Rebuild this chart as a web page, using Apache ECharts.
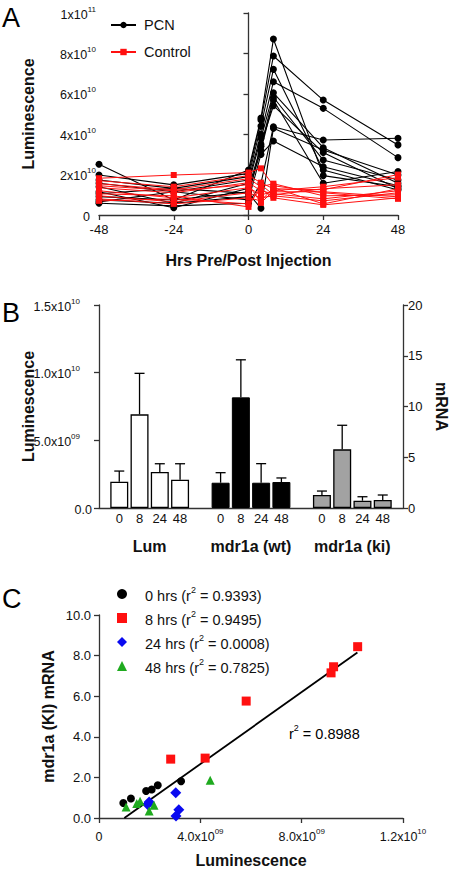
<!DOCTYPE html>
<html><head><meta charset="utf-8">
<script src="https://cdn.jsdelivr.net/npm/echarts@6/dist/echarts.min.js"></script>
<style>html,body{margin:0;padding:0;background:#fff}#c{width:452px;height:869px}</style>
</head><body><div id="c"></div>
<script>
// ---------------- Panel A data (Luminescence, units of 1e10) ----------------
const hoursA = [-48, -24, 0, 4, 8, 24, 48];
const pcn01 = [2.51, 0.74, 2.23, 4.80, 8.71, 1.95, 1.40];
const pcn02 = [1.98, 1.49, 2.06, 4.70, 7.87, 5.69, 3.47];
const pcn03 = [1.73, 1.32, 1.90, 4.40, 7.21, 2.23, 1.24];
const pcn04 = [1.57, 1.15, 1.73, 4.00, 6.60, 5.28, 2.84];
const pcn05 = [1.40, 0.58, 1.57, 3.80, 6.05, 3.33, 1.57];
const pcn06 = [1.15, 0.36, 1.32, 3.40, 5.83, 2.72, 1.73];
const pcn07 = [0.91, 0.74, 1.15, 3.20, 5.69, 1.57, 2.15];
const pcn08 = [0.75, 0.58, 0.91, 3.50, 5.41, 3.09, 1.30];
const pcn09 = [0.58, 0.45, 0.58, 1.57, 4.37, 3.71, 3.80];
const pcn10 = [1.05, 1.32, 1.07, 0.33, 4.29, 3.22, 1.98];
const pcn11 = [0.65, 1.15, 0.75, 3.00, 3.66, 2.39, 1.45];
const ctl01 = [1.82, 1.98, 2.10, 2.31, 1.45, 1.10, 0.80];
const ctl02 = [1.70, 1.40, 1.95, 1.60, 1.30, 1.25, 2.00];
const ctl03 = [1.55, 1.25, 1.80, 1.40, 1.55, 0.95, 1.00];
const ctl04 = [1.35, 1.10, 1.60, 1.20, 1.05, 0.80, 1.20];
const ctl05 = [1.20, 0.85, 1.35, 1.00, 1.15, 1.15, 0.90];
const ctl06 = [0.95, 0.65, 1.10, 0.85, 0.95, 0.70, 1.10];
const ctl07 = [0.80, 0.55, 0.85, 0.70, 1.35, 0.55, 1.30];
const ctl08 = [0.70, 0.80, 0.55, 1.30, 0.85, 0.50, 0.85];
const ctl09 = [1.05, 0.95, 0.40, 1.50, 1.00, 1.30, 1.50];
const ctl10 = [1.45, 1.20, 1.50, 0.60, 1.20, 1.40, 1.85];
const aYTickVals = [0, 2, 4, 6, 8, 10];
const aYTickMant = ['0', '2x10', '4x10', '6x10', '8x10', '1x10'];
const aYTickExp  = ['', '10', '10', '10', '10', '11'];

// ---------------- Panel B data ----------------
const bGroups = ['Lum', 'mdr1a (wt)', 'mdr1a (ki)'];
const bHours = ['0', '8', '24', '48'];
const lumMean = [1.94, 6.92, 2.66, 2.09];   // x1e9
const lumErr  = [2.73, 9.95, 3.27, 3.27];
const wtMean  = [2.49, 10.9, 2.49, 2.56];   // mRNA
const wtErr   = [3.48, 14.6, 4.37, 2.96];
const kiMean  = [1.28, 5.78, 0.72, 0.79];
const kiErr   = [1.67, 8.15, 1.11, 1.28];
const bYTickVals = [0, 5, 10, 15];
const bYTickMant = ['0.0', '5.0x10', '1.0x10', '1.5x10'];
const bYTickExp  = ['', '09', '10', '10'];

// ---------------- Panel C data ----------------
const c0hLum = [0.96, 1.26, 1.86, 2.08, 2.32, 3.24];   // x1e9
const c0hMrna = [0.74, 0.96, 1.33, 1.40, 1.61, 1.81];
const c8hLum = [2.83, 4.19, 5.81, 9.16, 9.26, 10.21];
const c8hMrna = [2.90, 2.95, 5.76, 7.15, 7.45, 8.44];
const c24hLum = [1.92, 1.98, 3.03, 3.15, 3.04];
const c24hMrna = [0.66, 0.79, 1.24, 0.41, 0.10];
const c48hLum = [1.07, 1.49, 1.62, 1.98, 2.17, 4.39];
const c48hMrna = [0.54, 0.71, 0.82, 0.35, 0.63, 1.86];
const cNames = ['0 hrs', '8 hrs', '24 hrs', '48 hrs'];
const cR2 = ['0.9393', '0.9495', '0.0008', '0.7825'];
const fitLum = [1.0, 10.2];
const fitMrna = [0.0, 8.15];
const fitR2 = '0.8988';
const cXTickVals = [0, 4, 8, 12];
const cXTickMant = ['0', '4.0x10', '8.0x10', '1.2x10'];
const cXTickExp  = ['', '09', '09', '10'];

// ---------------- styling ----------------
const FONT = "'Liberation Sans', Arial, Helvetica, sans-serif";
const AX = '#333';
const TXT = '#111';
const RED = '#ff1010';

function rich(padRight) {
  return {
    b: { fontFamily: FONT, fontSize: 12.5, lineHeight: 16, verticalAlign: 'bottom', color: TXT },
    s: { fontFamily: FONT, fontSize: 8, lineHeight: 8, verticalAlign: 'top', color: TXT, padding: [0, padRight || 0, 0, 0] },
    z: { fontFamily: FONT, fontSize: 12.5, lineHeight: 16, verticalAlign: 'bottom', color: TXT }
  };
}
function expFormatter(vals, mant, exp) {
  return function (v) {
    const i = vals.indexOf(Math.round(v * 1000) / 1000);
    if (i < 0) return '';
    return exp[i] ? '{b|' + mant[i] + '}{s|' + exp[i] + '}' : '{z|' + mant[i] + '}';
  };
}
const lineAx = { show: true, lineStyle: { color: AX, width: 1.3 } };
const tickAx = { show: true, length: 5, lineStyle: { color: AX, width: 1.3 } };
const nameStyle = { fontFamily: FONT, fontSize: 16, fontWeight: 'bold', color: TXT };
const labStyle = { fontFamily: FONT, fontSize: 13, color: TXT };

// ---------------- series ----------------
const series = [];
const pcnAll = [pcn01, pcn02, pcn03, pcn04, pcn05, pcn06, pcn07, pcn08, pcn09, pcn10, pcn11];
const ctlAll = [ctl01, ctl02, ctl03, ctl04, ctl05, ctl06, ctl07, ctl08, ctl09, ctl10];
pcnAll.forEach(function (arr) {
  series.push({ name: 'PCN', type: 'line', xAxisIndex: 0, yAxisIndex: 0,
    data: hoursA.map(function (h, i) { return [h, arr[i]]; }),
    symbol: 'circle', symbolSize: 7, color: '#000',
    lineStyle: { color: '#000', width: 1.1 }, itemStyle: { color: '#000' }, z: 2 });
});
ctlAll.forEach(function (arr) {
  series.push({ name: 'Control', type: 'line', xAxisIndex: 0, yAxisIndex: 0,
    data: hoursA.map(function (h, i) { return [h, arr[i]]; }),
    symbol: 'rect', symbolSize: 6, color: RED,
    lineStyle: { color: RED, width: 1 }, itemStyle: { color: RED }, z: 3 });
});

// Panel B categories
const bCats = ['_s'];
bGroups.forEach(function (g, gi) {
  bHours.forEach(function (h) { bCats.push(g + '|' + h); });
  bCats.push(gi < bGroups.length - 1 ? '_g' + gi : '_e');
});
function barData(g, vals) { return vals.map(function (v, i) { return [g + '|' + bHours[i], v]; }); }
function errData(g, m, e) { return m.map(function (v, i) { return [g + '|' + bHours[i], v, e[i]]; }); }
const barCommon = { type: 'bar', xAxisIndex: 1, barWidth: 18, barGap: '-100%' };
series.push(Object.assign({}, barCommon, { name: 'b-lum', yAxisIndex: 1, data: barData(bGroups[0], lumMean),
  itemStyle: { color: '#fff', borderColor: '#000', borderWidth: 1.3 } }));
series.push(Object.assign({}, barCommon, { name: 'b-wt', yAxisIndex: 2, data: barData(bGroups[1], wtMean),
  itemStyle: { color: '#000', borderColor: '#000', borderWidth: 1 } }));
series.push(Object.assign({}, barCommon, { name: 'b-ki', yAxisIndex: 2, data: barData(bGroups[2], kiMean),
  itemStyle: { color: '#a2a2a2', borderColor: '#000', borderWidth: 1.3 } }));
function errRender(params, api) {
  const p0 = api.coord([api.value(0), api.value(1)]);
  const p1 = api.coord([api.value(0), api.value(2)]);
  const st = { stroke: '#000', lineWidth: 1.3 };
  return { type: 'group', children: [
    { type: 'line', shape: { x1: p0[0], y1: p0[1], x2: p1[0], y2: p1[1] }, style: st },
    { type: 'line', shape: { x1: p1[0] - 5, y1: p1[1], x2: p1[0] + 5, y2: p1[1] }, style: st }
  ] };
}
series.push({ name: 'e-lum', type: 'custom', xAxisIndex: 1, yAxisIndex: 1, renderItem: errRender,
  encode: { x: 0, y: [1, 2] }, data: errData(bGroups[0], lumMean, lumErr), z: 5 });
series.push({ name: 'e-wt', type: 'custom', xAxisIndex: 1, yAxisIndex: 2, renderItem: errRender,
  encode: { x: 0, y: [1, 2] }, data: errData(bGroups[1], wtMean, wtErr), z: 5 });
series.push({ name: 'e-ki', type: 'custom', xAxisIndex: 1, yAxisIndex: 2, renderItem: errRender,
  encode: { x: 0, y: [1, 2] }, data: errData(bGroups[2], kiMean, kiErr), z: 5 });

// Panel C
series.push({ name: 'fit', type: 'line', xAxisIndex: 3, yAxisIndex: 3,
  data: fitLum.map(function (x, i) { return [x, fitMrna[i]]; }),
  showSymbol: false, symbol: 'none', lineStyle: { color: '#000', width: 1.8 }, z: 2 });
const cSets = [
  { x: c0hLum, y: c0hMrna, symbol: 'circle', size: 8, color: '#000' },
  { x: c8hLum, y: c8hMrna, symbol: 'rect', size: 9, color: RED },
  { x: c24hLum, y: c24hMrna, symbol: 'diamond', size: 11, color: '#0a0af0' },
  { x: c48hLum, y: c48hMrna, symbol: 'triangle', size: 9, color: '#1faa1f' }
];
cSets.forEach(function (s, k) {
  series.push({ name: cNames[k], type: 'scatter', xAxisIndex: 3, yAxisIndex: 3,
    data: s.x.map(function (x, i) { return [x, s.y[i]]; }),
    symbol: s.symbol, symbolSize: s.size, itemStyle: { color: s.color, opacity: 1 }, z: 4 });
});

const legRich = {
  f: { fontFamily: FONT, fontSize: 14.5, lineHeight: 18, color: TXT, verticalAlign: 'bottom', padding: [0, 0, 0, 13] },
  b: { fontFamily: FONT, fontSize: 14.5, lineHeight: 18, color: TXT, verticalAlign: 'bottom' },
  s: { fontFamily: FONT, fontSize: 9, lineHeight: 9, color: TXT, verticalAlign: 'top' }
};

const option = {
  animation: false,
  backgroundColor: '#fff',
  textStyle: { fontFamily: FONT },
  grid: [
    { left: 99, top: 13, width: 299, height: 202, outerBoundsMode: 'none', containLabel: false },
    { left: 99, top: 305, width: 304, height: 203, outerBoundsMode: 'none', containLabel: false },
    { left: 99, top: 615, width: 304, height: 203, outerBoundsMode: 'none', containLabel: false }
  ],
  legend: [
    { data: ['PCN', 'Control'], orient: 'vertical', left: 110, top: 17, padding: 0, itemWidth: 25, itemHeight: 8,
      itemGap: 11, selectedMode: false,
      textStyle: { fontFamily: FONT, fontSize: 14.5, color: TXT, lineHeight: 16, padding: [0, 0, 0, 3] } },
    { data: cNames, orient: 'vertical', left: 117, top: 585, padding: 0, itemWidth: 10, itemHeight: 10,
      itemGap: 6, selectedMode: false,
      formatter: function (n) { const i = cNames.indexOf(n); return '{f|' + n + ' (r}{s|2}{b| = ' + cR2[i] + ')}'; },
      textStyle: { rich: legRich } }
  ],
  xAxis: [
    { gridIndex: 0, type: 'value', min: -48, max: 48, interval: 24,
      name: 'Hrs Pre/Post Injection', nameLocation: 'middle', nameGap: 37, nameMoveOverlap: false, nameTextStyle: nameStyle,
      axisLine: lineAx, axisTick: tickAx, splitLine: { show: false },
      axisLabel: Object.assign({ margin: 8 }, labStyle) },
    { gridIndex: 1, type: 'category', data: bCats, boundaryGap: false, position: 'bottom',
      axisLine: lineAx, axisTick: { show: false }, splitLine: { show: false },
      axisLabel: Object.assign({ margin: 4, interval: 0, formatter: function (v) { return v.charAt(0) === '_' ? '' : v.split('|')[1]; } }, labStyle) },
    { gridIndex: 1, type: 'value', min: 0, max: bCats.length - 1, interval: 2.5, position: 'bottom', offset: 0,
      axisLine: { show: false }, axisTick: { show: false }, splitLine: { show: false },
      axisLabel: { margin: 30, fontFamily: FONT, fontSize: 16, fontWeight: 'bold', color: TXT,
        formatter: function (v) {
          for (let g = 0; g < bGroups.length; g++) {
            const c = (bCats.indexOf(bGroups[g] + '|' + bHours[0]) + bCats.indexOf(bGroups[g] + '|' + bHours[bHours.length - 1])) / 2;
            if (Math.abs(c - v) < 0.01) return bGroups[g];
          }
          return '';
        } } },
    { gridIndex: 2, type: 'value', min: 0, max: 12, interval: 4,
      name: 'Luminescence', nameLocation: 'middle', nameGap: 34, nameMoveOverlap: false, nameTextStyle: nameStyle,
      axisLine: lineAx, axisTick: tickAx, splitLine: { show: false },
      axisLabel: { margin: 9, formatter: expFormatter(cXTickVals, cXTickMant, cXTickExp), rich: rich(0) } }
  ],
  yAxis: [
    { gridIndex: 0, type: 'value', min: 0, max: 10, interval: 2,
      name: 'Luminescence', nameLocation: 'middle', nameGap: 63, nameMoveOverlap: false, nameTextStyle: nameStyle,
      axisLine: lineAx, axisTick: tickAx, splitLine: { show: false },
      axisLabel: { margin: 3, formatter: expFormatter(aYTickVals, aYTickMant, aYTickExp),
        rich: Object.assign(rich(0), { z: { fontFamily: FONT, fontSize: 12.5, lineHeight: 16, verticalAlign: 'bottom', color: TXT, padding: [0, 6, 0, 0] } }) } },
    { gridIndex: 1, type: 'value', min: 0, max: 15, interval: 5,
      name: 'Luminescence', nameLocation: 'middle', nameGap: 63, nameMoveOverlap: false, nameTextStyle: nameStyle,
      axisLine: lineAx, axisTick: tickAx, splitLine: { show: false },
      axisLabel: { margin: 7, formatter: expFormatter(bYTickVals, bYTickMant, bYTickExp), rich: rich(12) } },
    { gridIndex: 1, type: 'value', min: 0, max: 20, interval: 5, position: 'right',
      name: 'mRNA', nameLocation: 'middle', nameGap: 30, nameRotate: -90, nameMoveOverlap: false, nameTextStyle: nameStyle,
      axisLine: lineAx, axisTick: tickAx, splitLine: { show: false },
      axisLabel: Object.assign({ margin: 5 }, labStyle) },
    { gridIndex: 2, type: 'value', min: 0, max: 10, interval: 2,
      name: 'mdr1a (KI) mRNA', nameLocation: 'middle', nameGap: 43, nameMoveOverlap: false, nameTextStyle: nameStyle,
      axisLine: lineAx, axisTick: tickAx, splitLine: { show: false },
      axisLabel: Object.assign({ margin: 8, formatter: function (v) { return v.toFixed(1); } }, labStyle) }
  ],
  graphic: [
    { type: 'text', left: 2, top: 4, style: { text: 'A', fontFamily: FONT, fontSize: 27, fill: '#000' } },
    { type: 'text', left: 2, top: 299, style: { text: 'B', fontFamily: FONT, fontSize: 27, fill: '#000' } },
    { type: 'text', left: 2, top: 585, style: { text: 'C', fontFamily: FONT, fontSize: 27, fill: '#000' } },
    { type: 'text', left: 289, top: 723, style: { text: '{b|r}{s|2}{b| = ' + fitR2 + '}', rich: legRich } }
  ],
  series: series
};
const chart = echarts.init(document.getElementById('c'), null, { renderer: 'svg' });
chart.setOption(option);
</script>
</body></html>
